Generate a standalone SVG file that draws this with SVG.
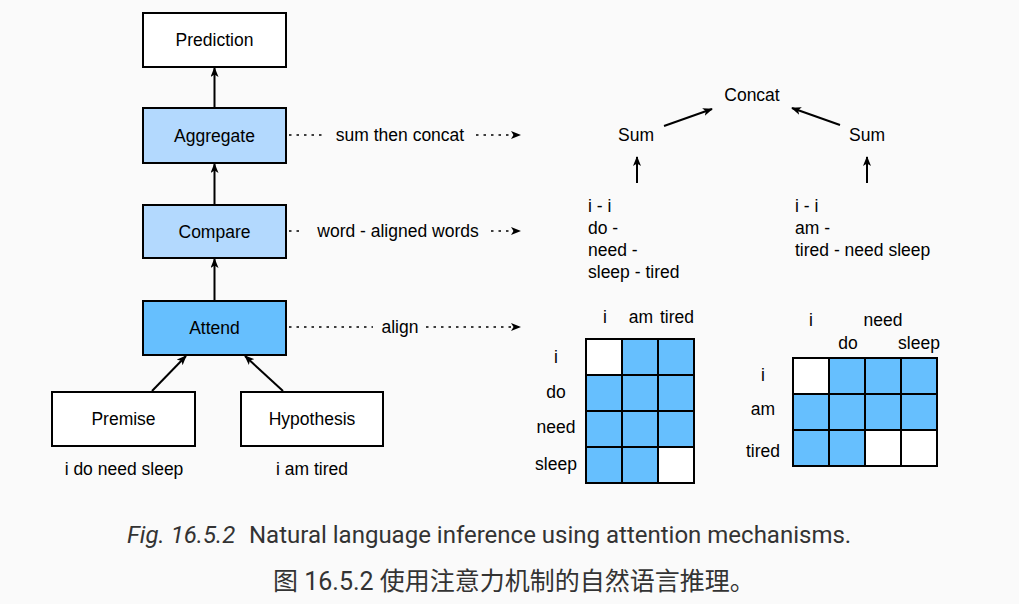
<svg xmlns="http://www.w3.org/2000/svg" width="1019" height="604" viewBox="0 0 1019 604">
<defs>
<marker id="ah" markerUnits="userSpaceOnUse" markerWidth="10" markerHeight="8" refX="9" refY="4" orient="auto">
<path d="M0,0 L10,4 L0,8 L2.5,4 z" fill="#000"/>
</marker>
<style>
.box{stroke:#000;stroke-width:2}
.w{fill:#fff}
.lb{fill:#b3d9fe}
.db{fill:#66bffe}
text{font-family:"Liberation Sans",Arial,sans-serif;font-size:17.5px;fill:#000}
.c{text-anchor:middle}
.ln{stroke:#000;stroke-width:2;fill:none}
.dt{stroke:#000;stroke-width:1.7;stroke-dasharray:2.5 5;fill:none}
.cap{font-family:Roboto,"Noto Sans CJK SC",sans-serif;font-size:24px;fill:#333}
.cap2{font-family:Roboto,"Noto Sans CJK SC",sans-serif;font-size:25px;fill:#333}
.cell{stroke:#000;stroke-width:2}
</style>
</defs>
<rect x="0" y="0" width="1019" height="604" fill="#fafafa"/>

<g id="connectors">
<line class="ln" x1="214.5" y1="108" x2="214.5" y2="68" marker-end="url(#ah)"/>
<line class="ln" x1="214.5" y1="205" x2="214.5" y2="164" marker-end="url(#ah)"/>
<line class="ln" x1="214.5" y1="301" x2="214.5" y2="259" marker-end="url(#ah)"/>
<line class="ln" x1="152" y1="391" x2="186" y2="356" marker-end="url(#ah)"/>
<line class="ln" x1="283" y1="391" x2="245" y2="356" marker-end="url(#ah)"/>
<line class="dt" x1="289" y1="135" x2="324" y2="135"/>
<line class="dt" x1="476" y1="135" x2="520" y2="135" marker-end="url(#ah)"/>
<line class="dt" x1="289" y1="231" x2="303" y2="231"/>
<line class="dt" x1="491" y1="231" x2="520" y2="231" marker-end="url(#ah)"/>
<line class="dt" x1="289" y1="327" x2="373" y2="327"/>
<line class="dt" x1="426" y1="327" x2="520" y2="327" marker-end="url(#ah)"/>
<line class="ln" x1="664" y1="126" x2="712" y2="109" marker-end="url(#ah)"/>
<line class="ln" x1="840" y1="125" x2="792" y2="108" marker-end="url(#ah)"/>
<line class="ln" x1="637" y1="183" x2="637" y2="157" marker-end="url(#ah)"/>
<line class="ln" x1="867" y1="183" x2="867" y2="157" marker-end="url(#ah)"/>
</g>

<g id="prediction"><rect class="box w" x="143" y="13" width="143" height="54"/><text class="c" x="214.5" y="46">Prediction</text></g>
<g id="aggregate"><rect class="box lb" x="143" y="108" width="143" height="55"/><text class="c" x="214.5" y="141.5">Aggregate</text></g>
<g id="compare"><rect class="box lb" x="143" y="205" width="143" height="53"/><text class="c" x="214.5" y="237.5">Compare</text></g>
<g id="attend"><rect class="box db" x="143" y="301" width="143" height="54"/><text class="c" x="214.5" y="333.5">Attend</text></g>
<g id="premise"><rect class="box w" x="52" y="392" width="143" height="54"/><text class="c" x="123.5" y="425">Premise</text></g>
<g id="hypothesis"><rect class="box w" x="241" y="392" width="142" height="54"/><text class="c" x="312" y="425">Hypothesis</text></g>
<g id="premise-text"><text class="c" x="124" y="475">i do need sleep</text></g>
<g id="hypothesis-text"><text class="c" x="312" y="475">i am tired</text></g>

<g id="labels">
<text class="c" x="400" y="141">sum then concat</text>
<text class="c" x="398" y="237">word - aligned words</text>
<text class="c" x="400" y="333">align</text>
</g>

<g id="concat"><text class="c" x="752" y="101">Concat</text></g>
<g id="sum-left"><text class="c" x="636" y="141">Sum</text></g>
<g id="sum-right"><text class="c" x="867" y="141">Sum</text></g>
<g id="pairs-left">
<text x="588" y="212">i - i</text>
<text x="588" y="234">do -</text>
<text x="588" y="256">need -</text>
<text x="588" y="278">sleep - tired</text>
</g>
<g id="pairs-right">
<text x="795" y="212">i - i</text>
<text x="795" y="234">am -</text>
<text x="795" y="256">tired - need sleep</text>
</g>

<g id="matrix-left">
<rect class="cell w" x="586" y="339" width="36" height="36"/>
<rect class="cell db" x="622" y="339" width="36" height="36"/>
<rect class="cell db" x="658" y="339" width="36" height="36"/>
<rect class="cell db" x="586" y="375" width="36" height="36"/>
<rect class="cell db" x="622" y="375" width="36" height="36"/>
<rect class="cell db" x="658" y="375" width="36" height="36"/>
<rect class="cell db" x="586" y="411" width="36" height="36"/>
<rect class="cell db" x="622" y="411" width="36" height="36"/>
<rect class="cell db" x="658" y="411" width="36" height="36"/>
<rect class="cell db" x="586" y="447" width="36" height="36"/>
<rect class="cell db" x="622" y="447" width="36" height="36"/>
<rect class="cell w" x="658" y="447" width="36" height="36"/>
<text class="c" x="605" y="323">i</text>
<text class="c" x="641" y="323">am</text>
<text class="c" x="677" y="323">tired</text>
<text class="c" x="556" y="363">i</text>
<text class="c" x="556" y="398">do</text>
<text class="c" x="556" y="433">need</text>
<text class="c" x="556" y="469.5">sleep</text>
</g>

<g id="matrix-right">
<rect class="cell w" x="793" y="358" width="36" height="36"/>
<rect class="cell db" x="829" y="358" width="36" height="36"/>
<rect class="cell db" x="865" y="358" width="36" height="36"/>
<rect class="cell db" x="901" y="358" width="36" height="36"/>
<rect class="cell db" x="793" y="394" width="36" height="36"/>
<rect class="cell db" x="829" y="394" width="36" height="36"/>
<rect class="cell db" x="865" y="394" width="36" height="36"/>
<rect class="cell db" x="901" y="394" width="36" height="36"/>
<rect class="cell db" x="793" y="430" width="36" height="36"/>
<rect class="cell db" x="829" y="430" width="36" height="36"/>
<rect class="cell w" x="865" y="430" width="36" height="36"/>
<rect class="cell w" x="901" y="430" width="36" height="36"/>
<text class="c" x="811" y="325.5">i</text>
<text class="c" x="883" y="325.5">need</text>
<text class="c" x="848" y="348.5">do</text>
<text class="c" x="919" y="348.5">sleep</text>
<text class="c" x="763" y="381">i</text>
<text class="c" x="763" y="414.5">am</text>
<text class="c" x="763" y="457">tired</text>
</g>

<g id="caption">
<text class="cap" x="127" y="543"><tspan font-style="italic">Fig. 16.5.2</tspan><tspan x="249">Natural language inference using attention mechanisms.</tspan></text>
<text class="cap2" x="273" y="590">图 16.5.2 使用注意力机制的自然语言推理。</text>
</g>
</svg>
